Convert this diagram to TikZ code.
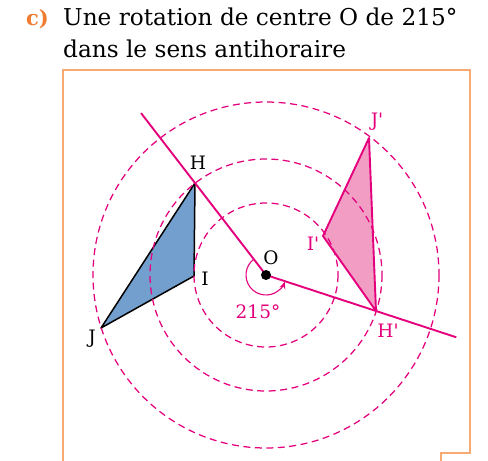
\documentclass[tikz,border=0pt]{standalone}
\usepackage{fontspec}
\setmainfont{DejaVu Serif}
\usetikzlibrary{calc,arrows.meta}
\definecolor{mag}{HTML}{E4007C}
\definecolor{pinkfill}{HTML}{F29EC4}
\definecolor{bluefill}{HTML}{729FCE}
\definecolor{frameor}{HTML}{F8AA72}
\definecolor{titleor}{HTML}{F07B2E}
\begin{document}
\begin{tikzpicture}[x=1pt,y=-1pt,
  circ/.style={mag,line width=1.25pt,dash pattern=on 7pt off 4.5pt},
  ray/.style={mag,line width=1.9pt},
  lbl/.style={font=\fontsize{18.5}{22}\selectfont,inner sep=0pt},
  framest/.style={frameor,line width=1.5pt}]
\useasboundingbox (0,0) rectangle (488,461);
% title
\node[anchor=base west,inner sep=0pt,text=titleor,font=\fontsize{21}{24}\selectfont\bfseries] (c) at (26,25) {c)};
\node[anchor=base west,inner sep=0pt,font=\fontsize{23.2}{28}\selectfont] (t1) at (63,25) {Une rotation de centre O de 215°};
\node[anchor=base west,inner sep=0pt,font=\fontsize{23.2}{28}\selectfont] (t2) at (63,57) {dans le sens antihoraire};
% frame
\draw[framest] (63,461) -- (63,70) -- (470,70) -- (470,453) -- (441,453) -- (441,461);
% points
\coordinate (O) at (266,275);
\coordinate (H) at (195,183);
\coordinate (I) at (194,276);
\coordinate (J) at (101,328);
\coordinate (Hp) at (376,311);
\coordinate (Ip) at (323,236);
\coordinate (Jp) at (369,138);
% triangles
\filldraw[fill=bluefill,draw=black,line width=1.5pt,line join=round] (H) -- (I) -- (J) -- cycle;
\filldraw[fill=pinkfill,draw=mag,line width=1.9pt,line join=round] (Hp) -- (Ip) -- (Jp) -- cycle;
% circles
\draw[circ] (O) circle[radius=72];
\draw[circ] (O) circle[radius=116];
\draw[circ] (O) circle[radius=173];
% rays
\draw[ray] (O) -- ($(O)!1.76!(H)$);
\draw[ray] (O) -- ($(O)!1.73!(Hp)$);
% angle arc
\draw[mag,line width=1.1pt,-{Stealth[length=7pt,width=6pt]}] ($(O)+(-127.7:20)$) arc[start angle=-127.7,end angle=-340,radius=20];
\fill (O) circle[radius=5];
% labels
\node[lbl] (lO) at (271,258) {O};
\node[lbl] (lH) at (198,163) {H};
\node[lbl] (lI) at (205,279) {I};
\node[lbl] (lJ) at (92,339) {J};
\node[lbl,text=mag] (lJp) at (377,122) {J\textquotesingle};
\node[lbl,text=mag] (lIp) at (313,244) {I\textquotesingle};
\node[lbl,text=mag] (lHp) at (388,331) {H\textquotesingle};
\node[lbl,text=mag] (la) at (258,312) {215°};
\end{tikzpicture}
\end{document}
